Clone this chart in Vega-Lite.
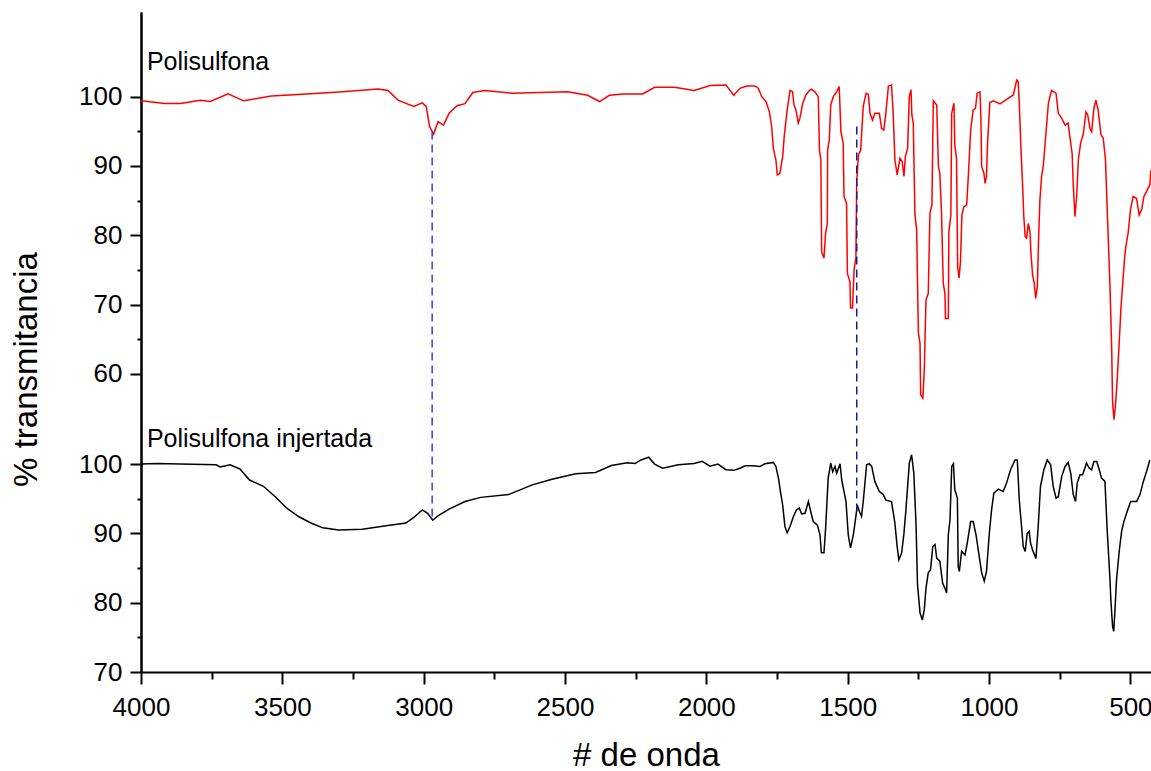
{
  "$schema": "https://vega.github.io/schema/vega-lite/v6.json",
  "autosize": {"type": "none"},
  "width": 1010,
  "height": 660,
  "padding": {"left": 141, "top": 12, "right": 0, "bottom": 99},
  "background": "white",
  "config": {
    "view": {"stroke": null},
    "axis": {
      "labelFont": "Liberation Sans",
      "labelFontSize": 26,
      "labelColor": "black",
      "titleFont": "Liberation Sans",
      "titleFontSize": 33,
      "titleFontWeight": "normal",
      "titleColor": "black",
      "domainColor": "black",
      "domainWidth": 2,
      "tickColor": "black",
      "tickWidth": 2,
      "grid": false
    }
  },
  "datasets": {
    "upper": [
      {"wn": 4000, "t": 99.4}, {"wn": 3916, "t": 99.0}, {"wn": 3860, "t": 99.0}, {"wn": 3790, "t": 99.5},
      {"wn": 3755, "t": 99.3}, {"wn": 3692, "t": 100.4}, {"wn": 3637, "t": 99.4}, {"wn": 3539, "t": 100.1},
      {"wn": 3413, "t": 100.4}, {"wn": 3287, "t": 100.7}, {"wn": 3161, "t": 101.1}, {"wn": 3126, "t": 100.9},
      {"wn": 3091, "t": 99.5}, {"wn": 3035, "t": 98.6}, {"wn": 3005, "t": 99.1}, {"wn": 2991, "t": 98.6},
      {"wn": 2979, "t": 95.7}, {"wn": 2965, "t": 94.6}, {"wn": 2949, "t": 96.4}, {"wn": 2930, "t": 95.9},
      {"wn": 2910, "t": 97.6}, {"wn": 2882, "t": 98.7}, {"wn": 2854, "t": 99.0}, {"wn": 2826, "t": 100.6},
      {"wn": 2784, "t": 100.9}, {"wn": 2686, "t": 100.5}, {"wn": 2490, "t": 100.7}, {"wn": 2420, "t": 100.2},
      {"wn": 2378, "t": 99.3}, {"wn": 2343, "t": 100.2}, {"wn": 2294, "t": 100.4}, {"wn": 2225, "t": 100.4},
      {"wn": 2183, "t": 101.35}, {"wn": 2113, "t": 101.35}, {"wn": 2043, "t": 100.9}, {"wn": 1987, "t": 101.6},
      {"wn": 1931, "t": 101.7}, {"wn": 1903, "t": 100.2},
      {"wn": 1881, "t": 101.2}, {"wn": 1858, "t": 101.55}, {"wn": 1828, "t": 101.55}, {"wn": 1816, "t": 101.2},
      {"wn": 1804, "t": 100.0}, {"wn": 1789, "t": 99.3}, {"wn": 1777, "t": 97.8}, {"wn": 1769, "t": 95.7},
      {"wn": 1763, "t": 92.55}, {"wn": 1754, "t": 90.9}, {"wn": 1749, "t": 88.7}, {"wn": 1740, "t": 88.95},
      {"wn": 1730, "t": 91.35}, {"wn": 1724, "t": 94.5}, {"wn": 1714, "t": 98.1}, {"wn": 1704, "t": 100.9},
      {"wn": 1695, "t": 100.7}, {"wn": 1690, "t": 98.8}, {"wn": 1683, "t": 98.1}, {"wn": 1675, "t": 96.2},
      {"wn": 1669, "t": 96.9}, {"wn": 1659, "t": 99.05}, {"wn": 1648, "t": 100.25}, {"wn": 1636, "t": 100.9},
      {"wn": 1628, "t": 101.1}, {"wn": 1616, "t": 100.7}, {"wn": 1604, "t": 100.0}, {"wn": 1600, "t": 92.3},
      {"wn": 1595, "t": 90.9}, {"wn": 1592, "t": 77.6}, {"wn": 1584, "t": 76.7}, {"wn": 1578, "t": 80.3},
      {"wn": 1572, "t": 81.7}, {"wn": 1571, "t": 92.3}, {"wn": 1565, "t": 93.8}, {"wn": 1560, "t": 98.8},
      {"wn": 1551, "t": 100.0}, {"wn": 1539, "t": 100.7}, {"wn": 1530, "t": 101.45}, {"wn": 1524, "t": 94.95},
      {"wn": 1516, "t": 93.3}, {"wn": 1513, "t": 85.6}, {"wn": 1504, "t": 84.6}, {"wn": 1501, "t": 74.5},
      {"wn": 1492, "t": 73.3}, {"wn": 1490, "t": 69.5}, {"wn": 1483, "t": 69.5}, {"wn": 1477, "t": 75.2},
      {"wn": 1471, "t": 76.7}, {"wn": 1468, "t": 87.75}, {"wn": 1462, "t": 91.6}, {"wn": 1454, "t": 92.3},
      {"wn": 1445, "t": 98.6}, {"wn": 1435, "t": 100.5}, {"wn": 1427, "t": 100.35}, {"wn": 1421, "t": 97.6},
      {"wn": 1412, "t": 96.6}, {"wn": 1404, "t": 97.6}, {"wn": 1388, "t": 97.6}, {"wn": 1380, "t": 95.4},
      {"wn": 1372, "t": 95.2}, {"wn": 1365, "t": 97.6}, {"wn": 1356, "t": 101.55}, {"wn": 1345, "t": 101.7},
      {"wn": 1339, "t": 97.6}, {"wn": 1333, "t": 90.9}, {"wn": 1325, "t": 88.7}, {"wn": 1315, "t": 91.1},
      {"wn": 1307, "t": 90.6}, {"wn": 1301, "t": 88.5}, {"wn": 1296, "t": 91.35}, {"wn": 1288, "t": 92.55},
      {"wn": 1282, "t": 100.0}, {"wn": 1276, "t": 101.0}, {"wn": 1273, "t": 97.4}, {"wn": 1268, "t": 96.2},
      {"wn": 1262, "t": 82.9}, {"wn": 1256, "t": 80.8}, {"wn": 1250, "t": 65.9}, {"wn": 1244, "t": 64.4},
      {"wn": 1242, "t": 57.0}, {"wn": 1234, "t": 56.5}, {"wn": 1229, "t": 60.6}, {"wn": 1223, "t": 70.7},
      {"wn": 1215, "t": 71.6}, {"wn": 1209, "t": 83.2}, {"wn": 1202, "t": 84.4}, {"wn": 1199, "t": 93.8},
      {"wn": 1197, "t": 99.4}, {"wn": 1185, "t": 98.8}, {"wn": 1179, "t": 89.9}, {"wn": 1174, "t": 88.95},
      {"wn": 1168, "t": 83.2}, {"wn": 1162, "t": 73.1}, {"wn": 1156, "t": 71.6}, {"wn": 1154, "t": 68.0},
      {"wn": 1144, "t": 68.0}, {"wn": 1142, "t": 80.5}, {"wn": 1135, "t": 82.9}, {"wn": 1132, "t": 97.6},
      {"wn": 1124, "t": 99.05}, {"wn": 1121, "t": 93.0}, {"wn": 1115, "t": 91.1}, {"wn": 1111, "t": 75.5},
      {"wn": 1106, "t": 73.8}, {"wn": 1101, "t": 76.2}, {"wn": 1096, "t": 82.9}, {"wn": 1089, "t": 84.1},
      {"wn": 1079, "t": 84.4}, {"wn": 1073, "t": 88.7}, {"wn": 1065, "t": 95.2}, {"wn": 1056, "t": 98.1},
      {"wn": 1048, "t": 98.3}, {"wn": 1042, "t": 100.5}, {"wn": 1032, "t": 100.7}, {"wn": 1029, "t": 97.4},
      {"wn": 1026, "t": 89.9}, {"wn": 1018, "t": 88.95}, {"wn": 1014, "t": 87.5}, {"wn": 1009, "t": 88.5},
      {"wn": 1005, "t": 93.5}, {"wn": 997, "t": 99.15}, {"wn": 985, "t": 99.4}, {"wn": 961, "t": 98.95},
      {"wn": 938, "t": 99.6}, {"wn": 914, "t": 100.25}, {"wn": 902, "t": 102.4}, {"wn": 897, "t": 102.2},
      {"wn": 893, "t": 99.05}, {"wn": 887, "t": 92.55}, {"wn": 881, "t": 87.0}, {"wn": 877, "t": 82.7},
      {"wn": 872, "t": 79.8}, {"wn": 867, "t": 79.6}, {"wn": 861, "t": 81.7}, {"wn": 855, "t": 80.5},
      {"wn": 852, "t": 77.6}, {"wn": 846, "t": 74.3}, {"wn": 840, "t": 73.1}, {"wn": 835, "t": 70.9},
      {"wn": 829, "t": 72.6}, {"wn": 825, "t": 79.1}, {"wn": 820, "t": 85.1}, {"wn": 814, "t": 88.5},
      {"wn": 808, "t": 90.1}, {"wn": 799, "t": 94.5}, {"wn": 790, "t": 99.05}, {"wn": 779, "t": 100.9},
      {"wn": 763, "t": 100.5}, {"wn": 755, "t": 97.6}, {"wn": 743, "t": 96.9}, {"wn": 731, "t": 95.9},
      {"wn": 720, "t": 96.2}, {"wn": 714, "t": 94.2}, {"wn": 706, "t": 91.8}, {"wn": 702, "t": 87.3},
      {"wn": 696, "t": 82.7}, {"wn": 690, "t": 85.6}, {"wn": 684, "t": 90.9}, {"wn": 676, "t": 93.3},
      {"wn": 667, "t": 94.5}, {"wn": 657, "t": 97.8}, {"wn": 651, "t": 97.4}, {"wn": 643, "t": 95.4},
      {"wn": 637, "t": 94.95}, {"wn": 629, "t": 98.3}, {"wn": 622, "t": 99.5}, {"wn": 614, "t": 98.1},
      {"wn": 604, "t": 94.5}, {"wn": 596, "t": 94.0}, {"wn": 588, "t": 90.9}, {"wn": 581, "t": 82.7},
      {"wn": 572, "t": 72.6}, {"wn": 566, "t": 63.5}, {"wn": 563, "t": 56.0}, {"wn": 558, "t": 53.4},
      {"wn": 552, "t": 55.8}, {"wn": 546, "t": 59.6}, {"wn": 539, "t": 64.9}, {"wn": 533, "t": 69.7},
      {"wn": 527, "t": 73.1}, {"wn": 521, "t": 76.4}, {"wn": 516, "t": 78.4}, {"wn": 508, "t": 80.3},
      {"wn": 499, "t": 83.9}, {"wn": 490, "t": 85.6}, {"wn": 478, "t": 85.3}, {"wn": 469, "t": 82.9},
      {"wn": 460, "t": 83.7}, {"wn": 452, "t": 85.6}, {"wn": 443, "t": 86.3}, {"wn": 431, "t": 87.3},
      {"wn": 427, "t": 89.4}
    ],
    "lower": [
      {"wn": 4000, "t": 100.0}, {"wn": 3944, "t": 100.1}, {"wn": 3860, "t": 100.0}, {"wn": 3734, "t": 99.9},
      {"wn": 3720, "t": 99.6}, {"wn": 3685, "t": 99.9}, {"wn": 3650, "t": 99.3}, {"wn": 3616, "t": 97.7},
      {"wn": 3567, "t": 96.8}, {"wn": 3525, "t": 95.3}, {"wn": 3483, "t": 93.6}, {"wn": 3441, "t": 92.4},
      {"wn": 3399, "t": 91.5}, {"wn": 3357, "t": 90.8}, {"wn": 3301, "t": 90.5}, {"wn": 3217, "t": 90.6},
      {"wn": 3133, "t": 91.1}, {"wn": 3063, "t": 91.5}, {"wn": 3035, "t": 92.3}, {"wn": 3005, "t": 93.4},
      {"wn": 2986, "t": 92.9}, {"wn": 2968, "t": 91.9}, {"wn": 2951, "t": 92.5}, {"wn": 2910, "t": 93.5},
      {"wn": 2854, "t": 94.6}, {"wn": 2798, "t": 95.2}, {"wn": 2700, "t": 95.6}, {"wn": 2616, "t": 97.0},
      {"wn": 2546, "t": 97.8}, {"wn": 2462, "t": 98.6}, {"wn": 2392, "t": 98.8}, {"wn": 2336, "t": 99.8},
      {"wn": 2280, "t": 100.2}, {"wn": 2252, "t": 100.1}, {"wn": 2231, "t": 100.6}, {"wn": 2204, "t": 101.0},
      {"wn": 2183, "t": 100.0}, {"wn": 2155, "t": 99.4}, {"wn": 2099, "t": 99.9}, {"wn": 2043, "t": 100.1},
      {"wn": 2015, "t": 100.4}, {"wn": 1987, "t": 99.7}, {"wn": 1959, "t": 100.0}, {"wn": 1931, "t": 99.2},
      {"wn": 1903, "t": 99.1},
      {"wn": 1881, "t": 99.4}, {"wn": 1863, "t": 99.76}, {"wn": 1834, "t": 99.76}, {"wn": 1810, "t": 99.66},
      {"wn": 1793, "t": 100.05}, {"wn": 1763, "t": 100.24}, {"wn": 1754, "t": 99.66}, {"wn": 1745, "t": 97.98},
      {"wn": 1737, "t": 95.8}, {"wn": 1730, "t": 94.1}, {"wn": 1722, "t": 91.0}, {"wn": 1714, "t": 90.1},
      {"wn": 1704, "t": 91.0}, {"wn": 1692, "t": 92.45}, {"wn": 1681, "t": 93.4}, {"wn": 1671, "t": 93.65},
      {"wn": 1663, "t": 92.8}, {"wn": 1651, "t": 92.9}, {"wn": 1639, "t": 94.6}, {"wn": 1631, "t": 93.2},
      {"wn": 1622, "t": 91.7}, {"wn": 1607, "t": 91.2}, {"wn": 1598, "t": 89.8}, {"wn": 1593, "t": 87.2},
      {"wn": 1584, "t": 87.2}, {"wn": 1578, "t": 90.76}, {"wn": 1569, "t": 97.98}, {"wn": 1560, "t": 100.14},
      {"wn": 1553, "t": 98.9}, {"wn": 1545, "t": 99.66}, {"wn": 1539, "t": 98.7}, {"wn": 1527, "t": 100.05},
      {"wn": 1521, "t": 97.7}, {"wn": 1506, "t": 94.6}, {"wn": 1498, "t": 89.8}, {"wn": 1490, "t": 87.9},
      {"wn": 1480, "t": 89.8}, {"wn": 1471, "t": 92.45}, {"wn": 1466, "t": 94.1}, {"wn": 1459, "t": 93.2},
      {"wn": 1451, "t": 92.45}, {"wn": 1445, "t": 94.6}, {"wn": 1433, "t": 99.9}, {"wn": 1424, "t": 100.05},
      {"wn": 1415, "t": 99.66}, {"wn": 1404, "t": 97.5}, {"wn": 1388, "t": 96.05}, {"wn": 1374, "t": 95.6},
      {"wn": 1365, "t": 94.8}, {"wn": 1345, "t": 94.6}, {"wn": 1333, "t": 91.5}, {"wn": 1325, "t": 88.1},
      {"wn": 1319, "t": 86.2}, {"wn": 1309, "t": 87.2}, {"wn": 1301, "t": 90.0}, {"wn": 1294, "t": 93.4},
      {"wn": 1282, "t": 100.14}, {"wn": 1274, "t": 101.35}, {"wn": 1266, "t": 98.7}, {"wn": 1258, "t": 91.0},
      {"wn": 1253, "t": 82.6}, {"wn": 1244, "t": 78.5}, {"wn": 1236, "t": 77.5}, {"wn": 1229, "t": 79.0},
      {"wn": 1223, "t": 82.1}, {"wn": 1215, "t": 84.3}, {"wn": 1207, "t": 84.75}, {"wn": 1199, "t": 88.1},
      {"wn": 1191, "t": 88.4}, {"wn": 1185, "t": 86.4}, {"wn": 1174, "t": 86.0}, {"wn": 1164, "t": 82.8},
      {"wn": 1156, "t": 82.1}, {"wn": 1150, "t": 81.4},
      {"wn": 1144, "t": 89.8}, {"wn": 1138, "t": 91.97}, {"wn": 1132, "t": 99.66}, {"wn": 1126, "t": 100.05},
      {"wn": 1121, "t": 96.3}, {"wn": 1112, "t": 95.1}, {"wn": 1109, "t": 85.2}, {"wn": 1105, "t": 84.5},
      {"wn": 1097, "t": 87.4}, {"wn": 1085, "t": 86.9}, {"wn": 1077, "t": 88.6}, {"wn": 1065, "t": 91.7},
      {"wn": 1056, "t": 91.7}, {"wn": 1046, "t": 89.8}, {"wn": 1038, "t": 87.6}, {"wn": 1026, "t": 84.3},
      {"wn": 1017, "t": 83.1}, {"wn": 1009, "t": 84.5}, {"wn": 999, "t": 90.0}, {"wn": 991, "t": 93.4},
      {"wn": 983, "t": 95.8}, {"wn": 967, "t": 96.4}, {"wn": 950, "t": 96.05}, {"wn": 938, "t": 97.26},
      {"wn": 924, "t": 99.18}, {"wn": 908, "t": 100.6}, {"wn": 900, "t": 100.6}, {"wn": 893, "t": 94.85},
      {"wn": 885, "t": 91.0}, {"wn": 879, "t": 88.1}, {"wn": 872, "t": 87.4}, {"wn": 865, "t": 90.0},
      {"wn": 858, "t": 90.3}, {"wn": 853, "t": 88.6}, {"wn": 846, "t": 87.6}, {"wn": 834, "t": 86.4},
      {"wn": 826, "t": 91.0}, {"wn": 818, "t": 96.8}, {"wn": 806, "t": 99.18}, {"wn": 794, "t": 100.6},
      {"wn": 782, "t": 99.9}, {"wn": 773, "t": 96.8}, {"wn": 763, "t": 95.1}, {"wn": 755, "t": 95.3},
      {"wn": 743, "t": 98.2}, {"wn": 731, "t": 99.66}, {"wn": 720, "t": 100.24}, {"wn": 711, "t": 98.7},
      {"wn": 702, "t": 95.6}, {"wn": 694, "t": 94.6}, {"wn": 688, "t": 97.26}, {"wn": 678, "t": 98.46},
      {"wn": 669, "t": 98.46}, {"wn": 655, "t": 100.14}, {"wn": 645, "t": 99.4}, {"wn": 637, "t": 99.18},
      {"wn": 629, "t": 100.38}, {"wn": 619, "t": 100.38}, {"wn": 610, "t": 99.18}, {"wn": 602, "t": 97.98},
      {"wn": 590, "t": 97.5}, {"wn": 582, "t": 90.5}, {"wn": 572, "t": 83.3}, {"wn": 569, "t": 80.4},
      {"wn": 563, "t": 76.6}, {"wn": 559, "t": 75.85}, {"wn": 555, "t": 78.5}, {"wn": 549, "t": 83.3},
      {"wn": 539, "t": 87.6}, {"wn": 531, "t": 90.3}, {"wn": 523, "t": 91.7}, {"wn": 511, "t": 93.2},
      {"wn": 499, "t": 94.6}, {"wn": 478, "t": 94.6}, {"wn": 466, "t": 95.6}, {"wn": 454, "t": 97.5},
      {"wn": 443, "t": 98.9}, {"wn": 431, "t": 100.6}
    ],
    "guides": [
      {"band": "2970 cm-1", "wn": 2970, "t": 148.0, "bottom": 91.98},
      {"band": "1468 cm-1", "wn": 1468, "t": 148.7, "bottom": 92.7}
    ],
    "labels": [
      {"name": "Polisulfona", "wn": 3979, "t": 156.9},
      {"name": "Polisulfona injertada", "wn": 3979, "t": 102.4}
    ]
  },
  "encoding": {
    "x": {
      "field": "wn",
      "type": "quantitative",
      "scale": {"domain": [427, 4000], "reverse": true, "nice": false, "zero": false},
      "axis": {
        "title": "# de onda",
        "values": [4000, 3750, 3500, 3250, 3000, 2750, 2500, 2250, 2000, 1750, 1500, 1250, 1000, 750, 500],
        "labelExpr": "datum.value % 500 === 0 ? datum.label : ''",
        "format": "d",
        "tickSize": {"condition": {"test": "datum.value % 500 === 0", "value": 12}, "value": 7},
        "labelPadding": 10,
        "labelFlush": false,
        "labelOverlap": false,
        "titleBaseline": "alphabetic",
        "titleY": 93
      }
    }
  },
  "layer": [
    {
      "data": {"name": "upper"},
      "mark": {"type": "line", "color": "#ff0000", "strokeWidth": 1.5},
      "encoding": {
        "y": {
          "field": "t",
          "type": "quantitative",
          "scale": {"domain": [16.98, 112.22], "nice": false, "zero": false},
          "axis": {
            "orient": "left",
            "title": null,
            "values": [60, 65, 70, 75, 80, 85, 90, 95, 100],
            "labelExpr": "datum.value % 10 === 0 ? datum.label : ''",
            "tickSize": {"condition": {"test": "datum.value % 10 === 0", "value": 11}, "value": 4},
            "labelPadding": 8,
            "labelOverlap": false,
            "labelFlush": false
          }
        }
      }
    },
    {
      "encoding": {
        "y": {
          "field": "t",
          "type": "quantitative",
          "scale": {"domain": [70, 165.24], "nice": false, "zero": false},
          "axis": {
            "orient": "left",
            "title": "% transmitancia",
            "values": [70, 75, 80, 85, 90, 95, 100],
            "labelExpr": "datum.value % 10 === 0 ? datum.label : ''",
            "tickSize": {"condition": {"test": "datum.value % 10 === 0", "value": 11}, "value": 4},
            "labelPadding": 8,
            "labelOverlap": false,
            "labelFlush": false,
            "titleAngle": -90,
            "titleBaseline": "alphabetic",
            "titleAlign": "center",
            "titleX": -105,
            "titleY": 357
          }
        }
      },
      "layer": [
        {
          "data": {"name": "lower"},
          "mark": {"type": "line", "color": "#000000", "strokeWidth": 1.5}
        },
        {
          "data": {"name": "guides"},
          "mark": {"type": "rule", "strokeWidth": 1.5, "strokeDash": [8, 5]},
          "encoding": {
            "y2": {"field": "bottom"},
            "color": {
              "field": "band",
              "type": "nominal",
              "scale": {"domain": ["2970 cm-1", "1468 cm-1"], "range": ["#3b3bff", "#1a1a8c"]},
              "legend": null
            }
          }
        },
        {
          "data": {"name": "labels"},
          "mark": {"type": "text", "align": "left", "baseline": "alphabetic", "font": "Liberation Sans", "fontSize": 25, "color": "black"},
          "encoding": {
            "text": {"field": "name"}
          }
        }
      ]
    }
  ],
  "resolve": {"scale": {"y": "independent"}, "axis": {"y": "independent"}}
}
